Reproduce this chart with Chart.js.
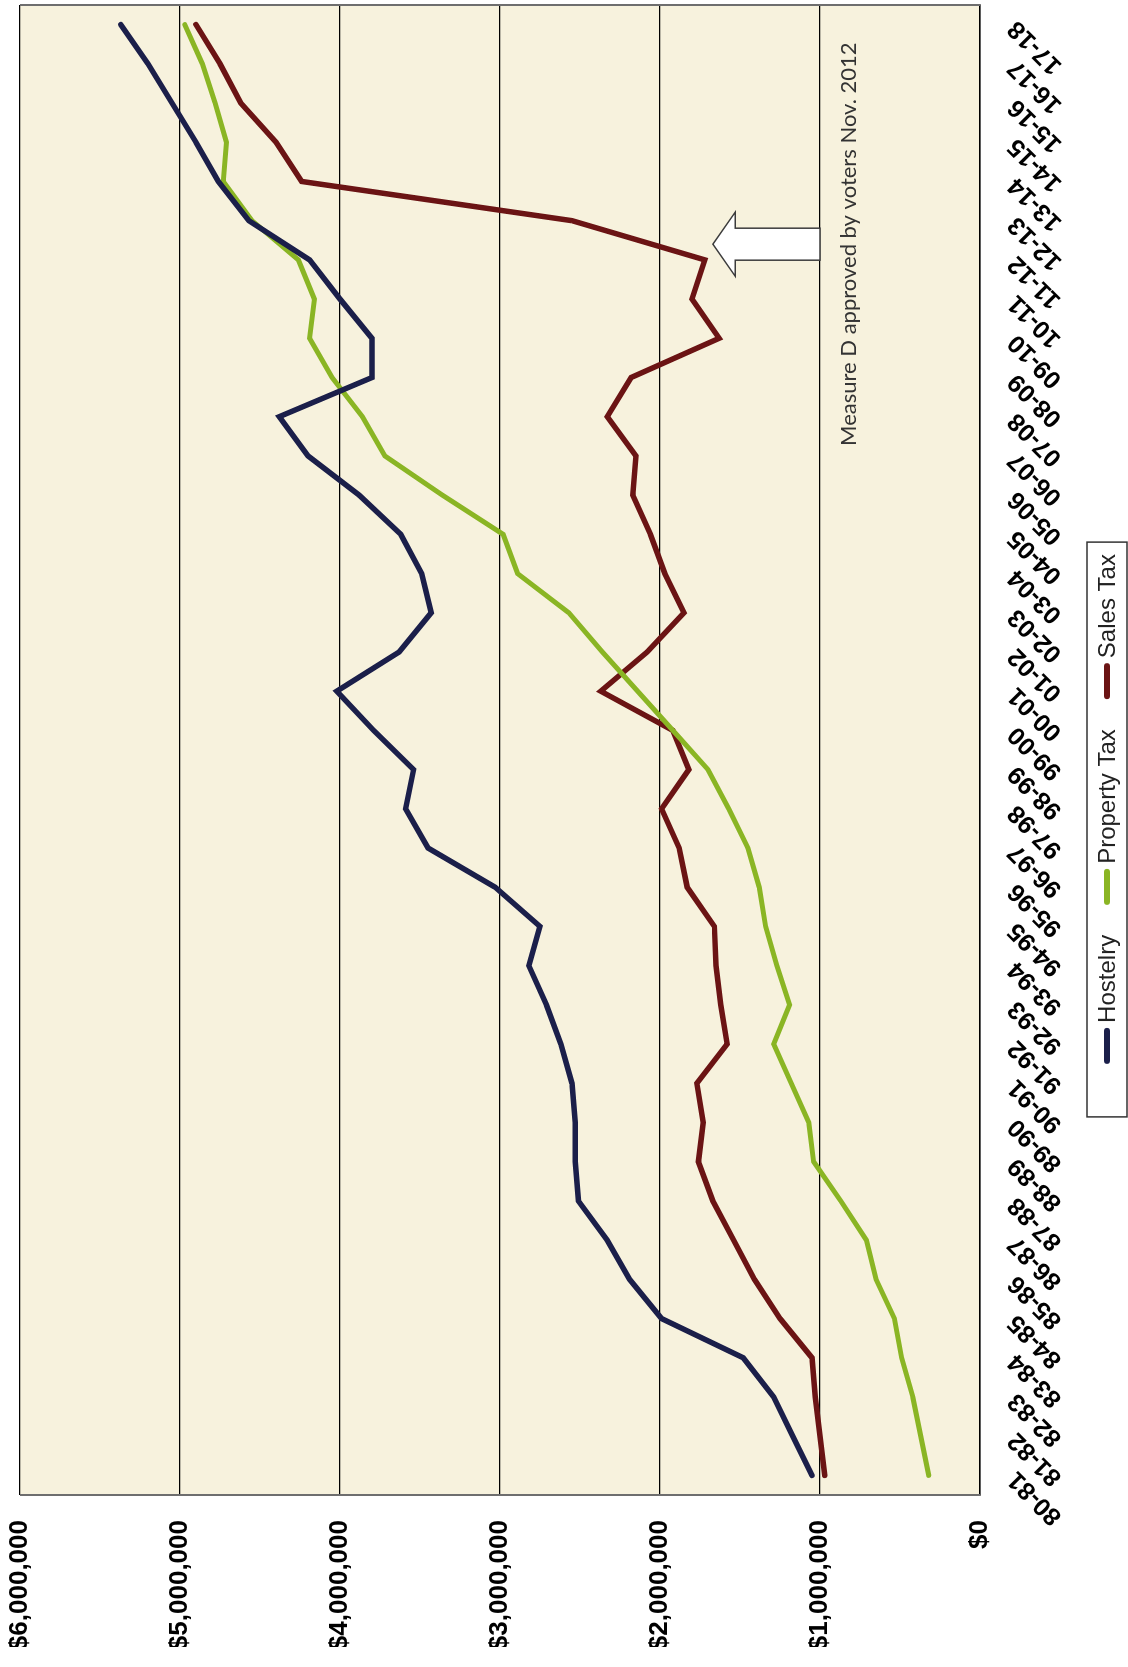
<!DOCTYPE html>
<html>
<head>
<meta charset="utf-8">
<script src="https://cdn.jsdelivr.net/npm/chart.js@4.4.1/dist/chart.umd.min.js"></script>
<style>
  html, body { margin: 0; padding: 0; background: #ffffff; }
  body { width: 1128px; height: 1667px; overflow: hidden; position: relative; }
  /* the landscape chart is turned a quarter-turn counter-clockwise onto the portrait page */
  #frame {
    position: absolute; left: 0; top: 0;
    width: 1667px; height: 1128px;
    transform-origin: 0 0;
    transform: translateY(1667px) rotate(-90deg);
  }
  canvas { display: block; }
</style>
</head>
<body>
<div id="frame"><canvas id="revenue" width="1667" height="1128"></canvas></div>
<script>
// Fiscal years
const fiscalYears = ['80-81','81-82','82-83','83-84','84-85','85-86','86-87','87-88','88-89','89-90',
  '90-91','91-92','92-93','93-94','94-95','95-96','96-97','97-98','98-99','99-00',
  '00-01','01-02','02-03','03-04','04-05','05-06','06-07','07-08','08-09','09-10',
  '10-11','11-12','12-13','13-14','14-15','15-16','16-17','17-18'];

// Annual revenue by source, dollars
const hostelry = [1050000,1170000,1290000,1480000,1990000,2190000,2330000,2510000,2530000,2530000,
  2550000,2620000,2710000,2820000,2750000,3030000,3450000,3590000,3540000,3790000,
  4020000,3630000,3430000,3490000,3620000,3880000,4200000,4380000,3800000,3800000,
  4000000,4190000,4570000,4760000,4900000,5050000,5200000,5370000];

const propertyTax = [320000,370000,420000,490000,535000,650000,710000,870000,1040000,1070000,
  1180000,1290000,1190000,1270000,1340000,1380000,1450000,1570000,1700000,1920000,
  2140000,2360000,2570000,2890000,2980000,3360000,3720000,3860000,4050000,4190000,
  4160000,4260000,4550000,4730000,4710000,4780000,4860000,4970000];

const salesTax = [970000,1000000,1030000,1050000,1250000,1410000,1540000,1670000,1760000,1730000,
  1770000,1580000,1620000,1650000,1660000,1830000,1880000,1990000,1820000,1920000,
  2370000,2080000,1850000,1970000,2060000,2170000,2150000,2330000,2180000,1630000,
  1800000,1720000,2550000,4240000,4400000,4620000,4750000,4900000];

// Value axis range
const valueMin = 0;
const valueMax = 6000000;
const valueStep = 1000000;

// Note about Measure D: category position and value anchors of the arrow and caption
const noteText = 'Measure D approved by voters Nov. 2012';
const noteAt = 31.4;
const arrowTip = 1670000;
const arrowNeck = 1530000;
const arrowTail = 1000000;
const captionBaseline = 775000;

// Legend placement inside the canvas
const legendStyle = {
  centerX: 858, centerY: 1107, font: '24px "Liberation Sans", Arial, sans-serif',
  mark: 36, markWidth: 6, gap: 5, spacing: 30, boxHalfHeight: 20, boxPadLeft: 53, boxPadRight: 12
};

const money = v => '$' + Number(v).toLocaleString('en-US');

const plotBackground = {
  id: 'plotBackground',
  beforeDraw(chart) {
    const { ctx, chartArea: a } = chart;
    ctx.save();
    ctx.fillStyle = '#f7f2dd';
    ctx.fillRect(a.left, a.top, a.width, a.height);
    ctx.restore();
  },
  beforeDatasetsDraw(chart) {
    const { ctx, chartArea: a } = chart;
    ctx.save();
    ctx.strokeStyle = '#6e6e6e';
    ctx.lineWidth = 2;
    ctx.beginPath();
    ctx.moveTo(a.left, a.top); ctx.lineTo(a.left, a.bottom);
    ctx.moveTo(a.right, a.top); ctx.lineTo(a.right, a.bottom);
    ctx.stroke();
    ctx.restore();
  }
};

// Boxed legend: short line swatch followed by the series name
const boxedLegend = {
  id: 'boxedLegend',
  afterDraw(chart) {
    const { ctx } = chart;
    const s = legendStyle;
    const sets = chart.data.datasets;
    ctx.save();
    ctx.font = s.font;
    const widths = sets.map(d => s.mark + s.gap + ctx.measureText(d.label).width);
    const total = widths.reduce((a, b) => a + b, 0) + s.spacing * (sets.length - 1);
    let x = s.centerX - total / 2;
    const start = x;
    sets.forEach((d, i) => {
      ctx.strokeStyle = d.borderColor;
      ctx.lineWidth = s.markWidth;
      ctx.lineCap = 'round';
      ctx.beginPath();
      ctx.moveTo(x + 3, s.centerY);
      ctx.lineTo(x + s.mark - 3, s.centerY);
      ctx.stroke();
      ctx.fillStyle = '#222222';
      ctx.textAlign = 'left';
      ctx.textBaseline = 'middle';
      ctx.fillText(d.label, x + s.mark + s.gap, s.centerY + 1);
      x += widths[i] + s.spacing;
    });
    const end = x - s.spacing;
    ctx.strokeStyle = '#333333';
    ctx.lineWidth = 1.5;
    ctx.strokeRect(start - s.boxPadLeft, s.centerY - s.boxHalfHeight,
      (end - start) + s.boxPadLeft + s.boxPadRight, s.boxHalfHeight * 2);
    ctx.restore();
  }
};

const measureNote = {
  id: 'measureNote',
  afterDatasetsDraw(chart) {
    const { ctx, scales: { x, y } } = chart;
    const cx = x.getPixelForValue(noteAt);
    const tip = y.getPixelForValue(arrowTip);
    const neck = y.getPixelForValue(arrowNeck);
    const tail = y.getPixelForValue(arrowTail);
    ctx.save();
    ctx.beginPath();
    ctx.moveTo(cx, tip);
    ctx.lineTo(cx + 32, neck);
    ctx.lineTo(cx + 16, neck);
    ctx.lineTo(cx + 16, tail);
    ctx.lineTo(cx - 16, tail);
    ctx.lineTo(cx - 16, neck);
    ctx.lineTo(cx - 32, neck);
    ctx.closePath();
    ctx.fillStyle = '#ffffff';
    ctx.fill();
    ctx.strokeStyle = '#3c3c3c';
    ctx.lineWidth = 1.5;
    ctx.stroke();

    ctx.fillStyle = '#333333';
    ctx.font = '22px Lato, "Open Sans", sans-serif';
    ctx.textAlign = 'center';
    ctx.textBaseline = 'alphabetic';
    ctx.fillText(noteText, cx, y.getPixelForValue(captionBaseline));
    ctx.restore();
  }
};

const line = (label, data, color, width) => ({
  label, data,
  borderColor: color,
  backgroundColor: color,
  borderWidth: width,
  borderCapStyle: 'round',
  borderJoinStyle: 'miter',
  pointRadius: 0,
  pointHoverRadius: 0,
  tension: 0,
  fill: false
});

new Chart(document.getElementById('revenue'), {
  type: 'line',
  data: {
    labels: fiscalYears,
    datasets: [
      line('Hostelry', hostelry, '#1b1f4a', 5.5),
      line('Property Tax', propertyTax, '#8ab524', 5),
      line('Sales Tax', salesTax, '#6b1414', 5.5)
    ]
  },
  options: {
    responsive: false,
    animation: false,
    devicePixelRatio: 1,
    layout: { padding: { left: 20, right: 5, top: 20, bottom: 50 } },
    plugins: {
      legend: { display: false },
      tooltip: { enabled: false }
    },
    scales: {
      x: {
        offset: true,
        grid: { display: false, drawTicks: false },
        border: { display: true, color: '#000000', width: 1.5 },
        ticks: {
          autoSkip: false,
          minRotation: 45,
          maxRotation: 45,
          padding: 22,
          color: '#000000',
          font: { family: '"Liberation Sans", Arial, sans-serif', size: 25, weight: 'bold' }
        },
        afterFit(s) {
          s.height = 1128 - 980 - 50;
          s.paddingLeft = 0;
          s.paddingRight = 0;
        }
      },
      y: {
        min: valueMin,
        max: valueMax,
        grid: { color: '#000000', lineWidth: 1.3, drawTicks: false },
        border: { display: false },
        ticks: {
          stepSize: valueStep,
          padding: 25,
          color: '#000000',
          font: { family: '"Liberation Sans", Arial, sans-serif', size: 26, weight: 'bold' },
          callback: v => money(v)
        },
        afterFit(s) {
          s.width = 152;
          s.paddingTop = 0;
          s.paddingBottom = 0;
        }
      }
    }
  },
  plugins: [plotBackground, measureNote, boxedLegend]
});
</script>
</body>
</html>
